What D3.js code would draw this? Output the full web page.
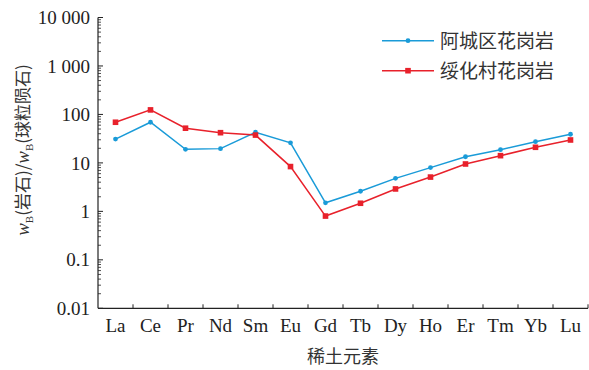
<!DOCTYPE html>
<html>
<head>
<meta charset="utf-8">
<script src="https://cdn.jsdelivr.net/npm/d3@7"></script>
<style>
  html, body { margin: 0; padding: 0; background: #fff; }
  svg { display: block; }
</style>
</head>
<body>
<div id="chart"></div>
<script>
// Chondrite-normalised REE patterns
const elements = ["La","Ce","Pr","Nd","Sm","Eu","Gd","Tb","Dy","Ho","Er","Tm","Yb","Lu"];
const seriesNames = ["阿城区花岗岩", "绥化村花岗岩"];
const achengValues = [31, 69, 19.1, 19.7, 43, 26, 1.5, 2.6, 4.8, 8.0, 13.4, 18.7, 27.4, 39];
const suihuaValues = [69, 124, 52, 42, 37.5, 8.4, 0.8, 1.47, 2.9, 5.1, 9.5, 14.1, 21, 29.7];
const yTickValues = [0.01, 0.1, 1, 10, 100, 1000, 10000];
const yTickLabels = ["0.01", "0.1", "1", "10", "100", "1 000", "10 000"];
const colors = ["#1a9bd8", "#e8212b"];

const W = 589, H = 370;
const plotLeft = 98, plotRight = 588, plotTop = 17.5, plotBottom = 308.3;
const latin = "'Liberation Serif', 'Times New Roman', serif";
const cjk = "'Noto Sans CJK SC', sans-serif";

const svg = d3.select("#chart").append("svg")
  .attr("width", W).attr("height", H);

const x = d3.scaleBand().domain(elements).range([plotLeft, plotRight]);
const y = d3.scaleLog().domain([0.01, 10000]).range([plotBottom, plotTop]);

// Y axis with inward major and minor ticks
const minorTicks = [];
for (let e = -2; e < 4; e++) {
  for (let k = 2; k <= 9; k++) minorTicks.push(k * Math.pow(10, e));
}
const yAxis = svg.append("g");
yAxis.append("line")
  .attr("x1", plotLeft).attr("x2", plotLeft)
  .attr("y1", y(10000)).attr("y2", y(0.01))
  .attr("stroke", "#222").attr("stroke-width", 1.2);
yAxis.selectAll(".major").data(yTickValues).join("line")
  .attr("x1", plotLeft).attr("x2", plotLeft + 5)
  .attr("y1", d => y(d)).attr("y2", d => y(d))
  .attr("stroke", "#222").attr("stroke-width", 1);
yAxis.selectAll(".minor").data(minorTicks).join("line")
  .attr("x1", plotLeft).attr("x2", plotLeft + 3)
  .attr("y1", d => y(d)).attr("y2", d => y(d))
  .attr("stroke", "#222").attr("stroke-width", 0.8);
yAxis.selectAll("text").data(yTickValues).join("text")
  .attr("x", plotLeft - 8).attr("y", d => y(d))
  .attr("dy", "0.35em")
  .attr("text-anchor", "end")
  .attr("font-family", latin).attr("font-size", 19)
  .attr("fill", "#222")
  .text((d, i) => yTickLabels[i]);

// X axis: ticks at band boundaries, labels at band centres
const xAxis = svg.append("g");
xAxis.append("line")
  .attr("x1", plotLeft).attr("x2", plotRight)
  .attr("y1", plotBottom).attr("y2", plotBottom)
  .attr("stroke", "#222").attr("stroke-width", 1.2);
xAxis.selectAll(".tick").data(elements).join("line")
  .attr("x1", d => x(d) + x.bandwidth()).attr("x2", d => x(d) + x.bandwidth())
  .attr("y1", plotBottom).attr("y2", plotBottom - 4)
  .attr("stroke", "#222").attr("stroke-width", 1);
xAxis.selectAll("text").data(elements).join("text")
  .attr("x", d => x(d) + x.bandwidth() / 2)
  .attr("y", 332)
  .attr("text-anchor", "middle")
  .attr("font-family", latin).attr("font-size", 19)
  .attr("fill", "#222")
  .text(d => d);

// Axis titles
svg.append("text")
  .attr("x", (plotLeft + plotRight) / 2).attr("y", 363)
  .attr("text-anchor", "middle")
  .attr("font-family", cjk).attr("font-size", 18)
  .attr("fill", "#333")
  .text("稀土元素");

const yTitle = svg.append("text")
  .attr("transform", "translate(29,150) rotate(-90)")
  .attr("text-anchor", "middle")
  .attr("font-size", 17)
  .attr("fill", "#333");
const parts = [
  { t: "w", f: latin, style: "italic" },
  { t: "B", f: latin, sub: true },
  { t: "(岩石)/", f: cjk },
  { t: "w", f: latin, style: "italic" },
  { t: "B", f: latin, sub: true },
  { t: "(球粒陨石)", f: cjk }
];
let shifted = false;
parts.forEach(p => {
  const ts = yTitle.append("tspan")
    .attr("font-family", p.f)
    .text(p.t);
  if (p.style) ts.attr("font-style", p.style).attr("font-size", 19);
  if (p.sub) { ts.attr("font-size", 11).attr("dy", 4); shifted = true; }
  else if (shifted) { ts.attr("dy", -4); shifted = false; }
});

// Series lines and markers
const series = [achengValues, suihuaValues];
const line = d3.line()
  .x((d, i) => x(elements[i]) + x.bandwidth() / 2)
  .y(d => y(d));

series.forEach((vals, s) => {
  const g = svg.append("g");
  g.append("path")
    .attr("d", line(vals))
    .attr("fill", "none")
    .attr("stroke", colors[s])
    .attr("stroke-width", 1.5);
  if (s === 0) {
    g.selectAll("circle").data(vals).join("circle")
      .attr("cx", (d, i) => x(elements[i]) + x.bandwidth() / 2)
      .attr("cy", d => y(d))
      .attr("r", 2.4)
      .attr("fill", colors[s]);
  } else {
    g.selectAll("rect").data(vals).join("rect")
      .attr("x", (d, i) => x(elements[i]) + x.bandwidth() / 2 - 2.8)
      .attr("y", d => y(d) - 2.8)
      .attr("width", 5.6).attr("height", 5.6)
      .attr("fill", colors[s]);
  }
});

// Legend
const legendY = [40.7, 70.7];
seriesNames.forEach((name, s) => {
  const g = svg.append("g");
  g.append("line")
    .attr("x1", 382).attr("x2", 434)
    .attr("y1", legendY[s]).attr("y2", legendY[s])
    .attr("stroke", colors[s]).attr("stroke-width", 1.5);
  if (s === 0) {
    g.append("circle").attr("cx", 408).attr("cy", legendY[s]).attr("r", 2.4).attr("fill", colors[s]);
  } else {
    g.append("rect").attr("x", 405.2).attr("y", legendY[s] - 2.8)
      .attr("width", 5.6).attr("height", 5.6).attr("fill", colors[s]);
  }
  g.append("text")
    .attr("x", 440).attr("y", legendY[s])
    .attr("dy", "0.36em")
    .attr("font-family", cjk).attr("font-size", 19)
    .attr("fill", "#333")
    .text(name);
});
</script>
</body>
</html>
